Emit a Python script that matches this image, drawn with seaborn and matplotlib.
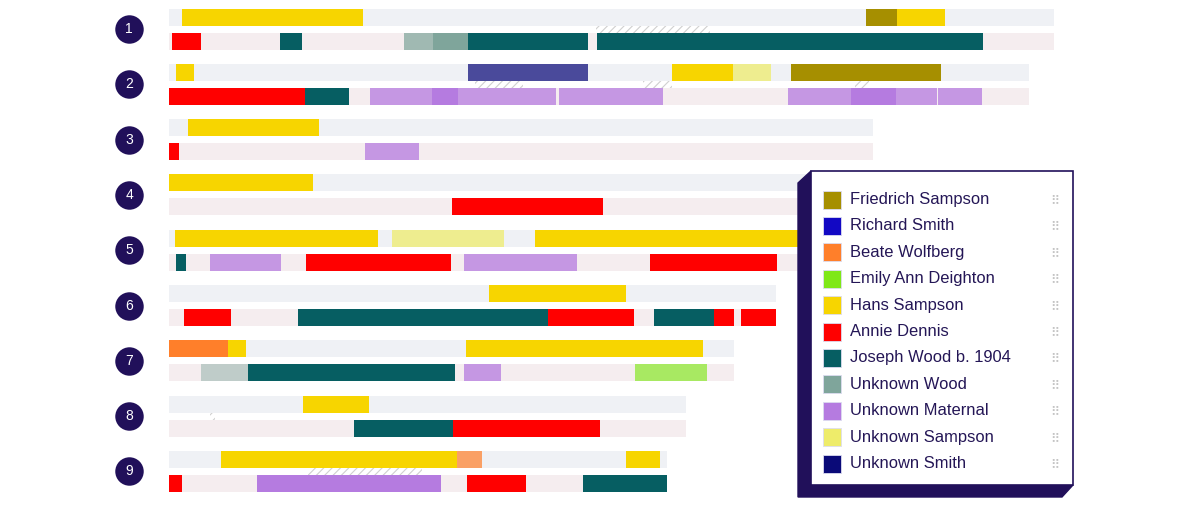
import pandas as pd
import seaborn as sns
import matplotlib.pyplot as plt
from matplotlib.patches import Polygon, Rectangle

# --- data -------------------------------------------------------------
ancestors = ["Friedrich Sampson", "Richard Smith", "Beate Wolfberg", "Emily Ann Deighton",
             "Hans Sampson", "Annie Dennis", "Joseph Wood b. 1904", "Unknown Wood",
             "Unknown Maternal", "Unknown Sampson", "Unknown Smith"]
ancestor_colors = ["#a68f00", "#1208c4", "#ff7f2a", "#7fe817", "#f7d500", "#ff0000",
                   "#065e62", "#7fa59b", "#b57be0", "#eeec6a", "#0a0a78"]

chromosomes = ["1", "2", "3", "4", "5", "6", "7", "8", "9"]
chrom_length = [249.3, 242.3, 198.3, 190.0, 181.0, 171.0, 159.2, 145.6, 140.3]

# segments: (ancestor, start Mb, end Mb, match confidence)
paternal_1 = [("Hans Sampson", 3.7, 54.6, 1.0), ("Friedrich Sampson", 196.3, 205.1, 1.0),
              ("Hans Sampson", 205.1, 218.6, 1.0)]
maternal_1 = [("Annie Dennis", 0.8, 9.0, 1.0), ("Joseph Wood b. 1904", 31.3, 37.5, 1.0),
              ("Unknown Wood", 66.2, 74.4, 0.72), ("Unknown Wood", 74.4, 84.2, 1.0),
              ("Joseph Wood b. 1904", 84.2, 118.0, 1.0), ("Joseph Wood b. 1904", 120.6, 229.3, 1.0)]
paternal_2 = [("Hans Sampson", 2.0, 7.0, 1.0), ("Unknown Smith", 84.2, 118.0, 0.72),
              ("Hans Sampson", 141.7, 158.9, 1.0), ("Unknown Sampson", 158.9, 169.6, 0.73),
              ("Friedrich Sampson", 175.2, 217.5, 1.0)]
maternal_2 = [("Annie Dennis", 0.0, 38.3, 1.0), ("Joseph Wood b. 1904", 38.3, 50.7, 1.0),
              ("Unknown Maternal", 56.6, 74.1, 0.75), ("Unknown Maternal", 74.1, 81.4, 1.0),
              ("Unknown Maternal", 81.4, 109.0, 0.75), ("Unknown Maternal", 109.9, 139.2, 0.75),
              ("Unknown Maternal", 174.4, 192.1, 0.75), ("Unknown Maternal", 192.1, 204.8, 1.0),
              ("Unknown Maternal", 204.8, 216.3, 0.75), ("Unknown Maternal", 216.5, 229.0, 0.75)]
paternal_3 = [("Hans Sampson", 5.4, 42.3, 1.0)]
maternal_3 = [("Annie Dennis", 0.0, 2.8, 1.0), ("Unknown Maternal", 55.2, 70.4, 0.75)]
paternal_4 = [("Hans Sampson", 0.0, 40.6, 1.0)]
maternal_4 = [("Annie Dennis", 79.7, 122.3, 1.0)]
paternal_5 = [("Hans Sampson", 1.7, 58.9, 1.0), ("Unknown Sampson", 62.8, 94.4, 0.73),
              ("Hans Sampson", 103.1, 180.0, 1.0)]
maternal_5 = [("Joseph Wood b. 1904", 2.0, 4.8, 1.0), ("Unknown Maternal", 11.5, 31.5, 0.75),
              ("Annie Dennis", 38.6, 79.4, 1.0), ("Unknown Maternal", 83.1, 114.9, 0.75),
              ("Annie Dennis", 135.5, 171.3, 1.0)]
paternal_6 = [("Hans Sampson", 90.1, 128.7, 1.0)]
maternal_6 = [("Annie Dennis", 4.2, 17.5, 1.0), ("Joseph Wood b. 1904", 36.3, 106.8, 1.0),
              ("Annie Dennis", 106.8, 131.0, 1.0), ("Joseph Wood b. 1904", 136.6, 153.5, 1.0),
              ("Annie Dennis", 153.5, 159.2, 1.0), ("Annie Dennis", 161.1, 171.0, 1.0)]
paternal_7 = [("Beate Wolfberg", 0.0, 16.6, 1.0), ("Hans Sampson", 16.6, 21.7, 1.0),
              ("Hans Sampson", 83.7, 150.4, 1.0)]
maternal_7 = [("Unknown Wood", 9.0, 22.3, 0.45), ("Joseph Wood b. 1904", 22.3, 80.6, 1.0),
              ("Unknown Maternal", 83.1, 93.5, 0.75), ("Emily Ann Deighton", 131.3, 151.5, 0.65)]
paternal_8 = [("Hans Sampson", 37.7, 56.3, 1.0)]
maternal_8 = [("Joseph Wood b. 1904", 52.1, 80.0, 1.0), ("Annie Dennis", 80.0, 121.4, 1.0)]
paternal_9 = [("Hans Sampson", 14.6, 81.1, 1.0), ("Beate Wolfberg", 81.1, 88.2, 0.71),
              ("Hans Sampson", 128.7, 138.3, 1.0)]
maternal_9 = [("Annie Dennis", 0.0, 3.7, 1.0), ("Unknown Maternal", 24.8, 76.6, 1.0),
              ("Annie Dennis", 83.9, 100.6, 1.0), ("Joseph Wood b. 1904", 116.6, 140.3, 1.0)]

paternal = [paternal_1, paternal_2, paternal_3, paternal_4, paternal_5,
            paternal_6, paternal_7, paternal_8, paternal_9]
maternal = [maternal_1, maternal_2, maternal_3, maternal_4, maternal_5,
            maternal_6, maternal_7, maternal_8, maternal_9]

# hatched overlap regions between the two tracks: (chromosome index, start, end)
overlaps = [(0, 120.3, 152.4), (1, 86.2, 99.7), (1, 133.5, 141.7), (1, 193.2, 197.2),
            (7, 11.5, 13.0), (8, 39.2, 71.3)]

# --- layout (pixels of the 1200x512 picture) --------------------------
W, H = 1200, 512
X0, PX_MB = 169, 3.55          # x of 0 Mb, pixels per Mb
Y0, ROW = 29, 55.3             # centre of row 1, row pitch
NAVY = "#21105a"
TEXT = "#241656"
PAT_BG, MAT_BG = "#eef1f6", "#f7ebee"
OFF = 12 / ROW                 # track offset from row centre
BAR_H = 17 / ROW

sns.set_theme(style="white")
plt.rcParams['font.family'] = ['Liberation Sans', 'DejaVu Sans']
plt.rcParams['hatch.linewidth'] = 0.8

fig = plt.figure(figsize=(12, 5.12), dpi=100)
ax = fig.add_axes([0, 0, 1, 1])

# background tracks, one per parent
bg = pd.DataFrame({
    "chrom": chromosomes * 2,
    "track": ["paternal"] * 9 + ["maternal"] * 9,
    "length": chrom_length * 2,
})
sns.barplot(data=bg, x="length", y="chrom", hue="track", order=chromosomes,
            hue_order=["paternal", "maternal"], palette=[PAT_BG, MAT_BG],
            orient="h", width=4 * OFF, gap=1 - BAR_H / (2 * OFF), errorbar=None,
            legend=False, linewidth=0, ax=ax)

color_of = dict(zip(ancestors, ancestor_colors))
for i in range(9):
    for segs, off in ((paternal[i], -OFF), (maternal[i], OFF)):
        for who, start, end, conf in segs:
            ax.barh(i + off, end - start, left=start, height=BAR_H,
                    color=color_of[who], alpha=conf, linewidth=0, zorder=3)

for i, start, end in overlaps:
    ax.barh(i, end - start, left=start, height=7 / ROW, facecolor="none",
            edgecolor="#d0d0d0", hatch="////", linewidth=0, zorder=2)

# chromosome number badges
cx = (129 - X0) / PX_MB
ax.scatter([cx] * 9, range(9), s=420, color=NAVY, zorder=4, linewidths=0)
for i, c in enumerate(chromosomes):
    ax.text(cx, i, c, color="white", ha="center", va="center", fontsize=10, zorder=5)

ax.set_xlim(-X0 / PX_MB, (W - X0) / PX_MB)
ax.set_ylim((H - Y0) / ROW, -Y0 / ROW)
ax.axis("off")

# --- legend panel with extruded edge ----------------------------------
def fx(px):
    return px / W


def fy(py):
    return 1 - py / H


shadow = [(798, 183), (811, 171), (811, 485), (1073, 485), (1062, 497), (798, 497)]
fig.patches.append(Polygon([(fx(x), fy(y)) for x, y in shadow], closed=True,
                           transform=fig.transFigure, facecolor=NAVY, edgecolor=NAVY))
fig.patches.append(Rectangle((fx(811), fy(485)), fx(1073) - fx(811), fy(171) - fy(485),
                             transform=fig.transFigure, facecolor="white",
                             edgecolor=NAVY, linewidth=1.2))
for k, (name, col) in enumerate(zip(ancestors, ancestor_colors)):
    yc = 199.5 + 26.4 * k
    fig.patches.append(Rectangle((fx(823), fy(yc + 9)), fx(18), 18 / H,
                                 transform=fig.transFigure, facecolor=col,
                                 edgecolor="#dcdcf0", linewidth=0.6, zorder=3))
    fig.text(fx(850), fy(yc), name, color=TEXT, fontsize=11.9, va="center", ha="left")
    fig.text(fx(1055), fy(yc + 1), "\u283f", color="#c4c4c4", fontsize=9,
             va="center", ha="center", family="DejaVu Sans")

fig.savefig("out.png", dpi=100)
